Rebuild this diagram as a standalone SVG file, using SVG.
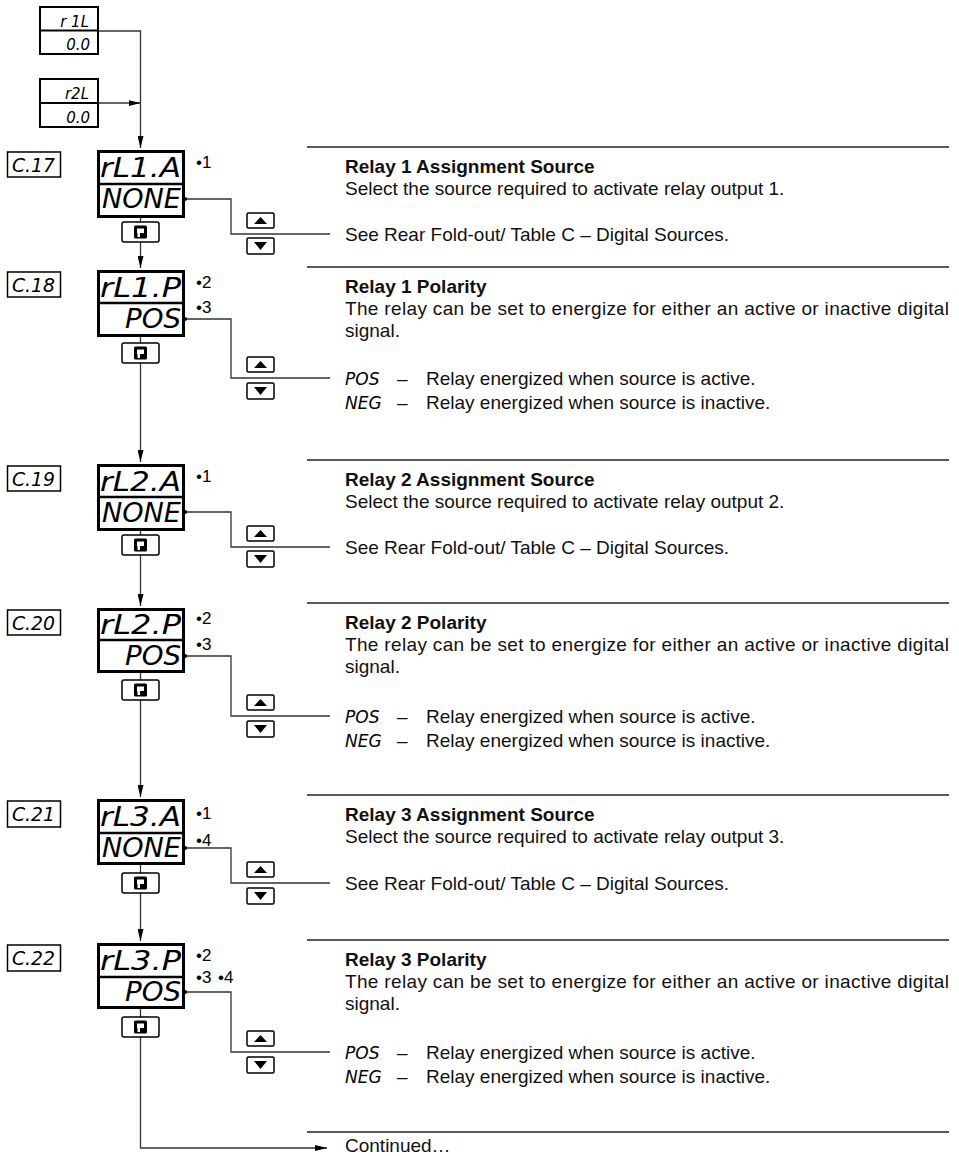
<svg xmlns="http://www.w3.org/2000/svg" width="959" height="1156" viewBox="0 0 959 1156">
<style>
.disp{fill:#fff;stroke:#000;stroke-width:3}
.div{stroke:#000;stroke-width:2.5}
.small{fill:#fff;stroke:#000;stroke-width:2}
.cbox{fill:#fff;stroke:#000;stroke-width:1.5}
.seg{font-family:"DejaVu Sans","Liberation Sans",sans-serif;font-weight:200;font-style:italic;fill:#000}
.big{font-size:26px}
.mid{font-size:19px}
.sm{font-size:15px}
.tseg{font-size:17px}
.txt{font-family:"Liberation Sans",Arial,sans-serif;font-size:19px;fill:#111}
.hd{font-weight:bold}
.dot{font-family:"Liberation Sans",Arial,sans-serif;font-size:17px;fill:#000}
.conn{stroke:#333;stroke-width:1.3;fill:none}
.sep{stroke:#222;stroke-width:1.5}
.btn{fill:#fff;stroke:#000;stroke-width:1.5}
.tri{fill:#000}
</style>
<defs>
<marker id="ah" viewBox="0 0 12 6" refX="12" refY="3" markerWidth="12" markerHeight="6" markerUnits="userSpaceOnUse" orient="auto"><path d="M0,0 L12,3 L0,6 z" fill="#000"/></marker>
<g id="enter"><rect x="-18.5" y="0" width="37" height="20" rx="2" class="btn"/><rect x="-6.5" y="3.5" width="13" height="13" rx="1.5" fill="#000"/><rect x="-3.5" y="6.5" width="7" height="4.5" fill="#fff"/><path d="M-3,11 L-0.5,11 L-0.5,15 L-3,15 z" fill="#fff"/></g>
<g id="up"><rect x="0" y="0" width="27" height="15" rx="1.5" class="btn"/><path d="M7,11 L20,11 L13.5,4 z" class="tri"/></g>
<g id="down"><rect x="0" y="0" width="27" height="16" rx="1.5" class="btn"/><path d="M7,4 L20,4 L13.5,12 z" class="tri"/></g>
</defs>

<g id="connectors">
<path class="conn" d="M98,31 H140.5 V148" marker-end="url(#ah)"/>
<path class="conn" d="M98,103 H140.5" marker-end="url(#ah)"/>
<path class="conn" d="M140.5,218 V268" marker-end="url(#ah)"/>
<path class="conn" d="M140.5,337 V462" marker-end="url(#ah)"/>
<path class="conn" d="M140.5,531 V606" marker-end="url(#ah)"/>
<path class="conn" d="M140.5,673 V797" marker-end="url(#ah)"/>
<path class="conn" d="M140.5,865 V941" marker-end="url(#ah)"/>
<path class="conn" d="M140.5,1009 V1148 H327" marker-end="url(#ah)"/>
<path class="conn" d="M185,199 H231 V234 H330"/>
<path class="conn" d="M185,319 H231 V378 H330"/>
<path class="conn" d="M185,512 H231 V547 H330"/>
<path class="conn" d="M185,656 H231 V716 H330"/>
<path class="conn" d="M185,848 H231 V883 H330"/>
<path class="conn" d="M185,992 H231 V1052 H330"/>
<circle cx="185" cy="199" r="2" fill="#000"/>
<circle cx="185" cy="319" r="2" fill="#000"/>
<circle cx="185" cy="512" r="2" fill="#000"/>
<circle cx="185" cy="656" r="2" fill="#000"/>
<circle cx="185" cy="848" r="2" fill="#000"/>
<circle cx="185" cy="992" r="2" fill="#000"/>
</g>

<g id="separators">
<line class="sep" x1="307" y1="147" x2="949" y2="147"/>
<line class="sep" x1="307" y1="267" x2="949" y2="267"/>
<line class="sep" x1="307" y1="460" x2="949" y2="460"/>
<line class="sep" x1="307" y1="603" x2="949" y2="603"/>
<line class="sep" x1="307" y1="795" x2="949" y2="795"/>
<line class="sep" x1="307" y1="940" x2="949" y2="940"/>
<line class="sep" x1="307" y1="1132" x2="949" y2="1132"/>
</g>

<g id="r1L">
<rect x="40" y="7" width="58" height="47" class="small"/>
<line x1="39" y1="30.5" x2="99" y2="30.5" stroke="#000" stroke-width="2"/>
<text class="seg sm" x="89" y="27" text-anchor="end">r 1L</text>
<text class="seg sm" x="90" y="50" text-anchor="end">0.0</text>
</g>
<g id="r2L">
<rect x="40" y="79" width="58" height="48" class="small"/>
<line x1="39" y1="103" x2="99" y2="103" stroke="#000" stroke-width="2"/>
<text class="seg sm" x="89" y="99" text-anchor="end">r2L</text>
<text class="seg sm" x="90" y="123" text-anchor="end">0.0</text>
</g>

<!-- Row 1 -->
<g id="C17"><rect x="7.5" y="152" width="53" height="25" class="cbox"/><text class="seg mid" x="12" y="172" textLength="43" lengthAdjust="spacingAndGlyphs">C.17</text></g>
<g id="rL1A">
<rect x="98.5" y="151.5" width="85" height="65" class="disp"/>
<line class="div" x1="97" y1="184" x2="185" y2="184"/>
<text class="seg big" x="100" y="177" textLength="81" lengthAdjust="spacingAndGlyphs">rL1.A</text>
<text class="seg big" x="102" y="208" textLength="79" lengthAdjust="spacingAndGlyphs">NONE</text>
<text class="dot" x="196" y="168">•1</text>
<use href="#enter" x="140.5" y="222"/>
<use href="#up" x="247" y="213"/>
<use href="#down" x="247" y="238"/>
</g>
<g id="t1">
<text class="txt hd" x="345" y="173">Relay 1 Assignment Source</text>
<text class="txt" x="345" y="195">Select the source required to activate relay output 1.</text>
<text class="txt" x="345" y="241">See Rear Fold-out/ Table C – Digital Sources.</text>
</g>

<!-- Row 2 -->
<g id="C18"><rect x="7.5" y="272" width="53" height="25" class="cbox"/><text class="seg mid" x="12" y="292" textLength="43" lengthAdjust="spacingAndGlyphs">C.18</text></g>
<g id="rL1P">
<rect x="98.5" y="271.5" width="85" height="64" class="disp"/>
<line class="div" x1="97" y1="303" x2="185" y2="303"/>
<text class="seg big" x="100" y="297" textLength="81" lengthAdjust="spacingAndGlyphs">rL1.P</text>
<text class="seg big" x="125" y="328" textLength="56" lengthAdjust="spacingAndGlyphs">POS</text>
<text class="dot" x="196" y="288">•2</text>
<text class="dot" x="196" y="313">•3</text>
<use href="#enter" x="140.5" y="343"/>
<use href="#up" x="247" y="357"/>
<use href="#down" x="247" y="383"/>
</g>
<g id="t2">
<text class="txt hd" x="345" y="293">Relay 1 Polarity</text>
<text class="txt" x="345" y="315" textLength="604" lengthAdjust="spacing">The relay can be set to energize for either an active or inactive digital</text>
<text class="txt" x="345" y="337">signal.</text>
<text class="seg tseg" x="345" y="385">POS</text>
<text class="txt" x="397" y="385">–</text>
<text class="txt" x="426" y="385">Relay energized when source is active.</text>
<text class="seg tseg" x="345" y="409">NEG</text>
<text class="txt" x="397" y="409">–</text>
<text class="txt" x="426" y="409">Relay energized when source is inactive.</text>
</g>

<!-- Row 3 -->
<g id="C19"><rect x="7.5" y="466" width="53" height="25" class="cbox"/><text class="seg mid" x="12" y="486" textLength="43" lengthAdjust="spacingAndGlyphs">C.19</text></g>
<g id="rL2A">
<rect x="98.5" y="465.5" width="85" height="64" class="disp"/>
<line class="div" x1="97" y1="497" x2="185" y2="497"/>
<text class="seg big" x="100" y="491" textLength="81" lengthAdjust="spacingAndGlyphs">rL2.A</text>
<text class="seg big" x="102" y="522" textLength="79" lengthAdjust="spacingAndGlyphs">NONE</text>
<text class="dot" x="196" y="482">•1</text>
<use href="#enter" x="140.5" y="535"/>
<use href="#up" x="247" y="526"/>
<use href="#down" x="247" y="551"/>
</g>
<g id="t3">
<text class="txt hd" x="345" y="486">Relay 2 Assignment Source</text>
<text class="txt" x="345" y="508">Select the source required to activate relay output 2.</text>
<text class="txt" x="345" y="554">See Rear Fold-out/ Table C – Digital Sources.</text>
</g>

<!-- Row 4 -->
<g id="C20"><rect x="7.5" y="610" width="53" height="25" class="cbox"/><text class="seg mid" x="12" y="630" textLength="43" lengthAdjust="spacingAndGlyphs">C.20</text></g>
<g id="rL2P">
<rect x="98.5" y="609.5" width="85" height="62" class="disp"/>
<line class="div" x1="97" y1="640" x2="185" y2="640"/>
<text class="seg big" x="100" y="634" textLength="81" lengthAdjust="spacingAndGlyphs">rL2.P</text>
<text class="seg big" x="125" y="665" textLength="56" lengthAdjust="spacingAndGlyphs">POS</text>
<text class="dot" x="196" y="624">•2</text>
<text class="dot" x="196" y="650">•3</text>
<use href="#enter" x="140.5" y="680"/>
<use href="#up" x="247" y="695"/>
<use href="#down" x="247" y="721"/>
</g>
<g id="t4">
<text class="txt hd" x="345" y="629">Relay 2 Polarity</text>
<text class="txt" x="345" y="651" textLength="604" lengthAdjust="spacing">The relay can be set to energize for either an active or inactive digital</text>
<text class="txt" x="345" y="673">signal.</text>
<text class="seg tseg" x="345" y="723">POS</text>
<text class="txt" x="397" y="723">–</text>
<text class="txt" x="426" y="723">Relay energized when source is active.</text>
<text class="seg tseg" x="345" y="747">NEG</text>
<text class="txt" x="397" y="747">–</text>
<text class="txt" x="426" y="747">Relay energized when source is inactive.</text>
</g>

<!-- Row 5 -->
<g id="C21"><rect x="7.5" y="801" width="53" height="26" class="cbox"/><text class="seg mid" x="12" y="821" textLength="43" lengthAdjust="spacingAndGlyphs">C.21</text></g>
<g id="rL3A">
<rect x="98.5" y="800.5" width="85" height="63" class="disp"/>
<line class="div" x1="97" y1="833" x2="185" y2="833"/>
<text class="seg big" x="100" y="826" textLength="81" lengthAdjust="spacingAndGlyphs">rL3.A</text>
<text class="seg big" x="102" y="857" textLength="79" lengthAdjust="spacingAndGlyphs">NONE</text>
<text class="dot" x="196" y="819">•1</text>
<text class="dot" x="196" y="846">•4</text>
<use href="#enter" x="140.5" y="873"/>
<use href="#up" x="247" y="862"/>
<use href="#down" x="247" y="888"/>
</g>
<g id="t5">
<text class="txt hd" x="345" y="821">Relay 3 Assignment Source</text>
<text class="txt" x="345" y="843">Select the source required to activate relay output 3.</text>
<text class="txt" x="345" y="890">See Rear Fold-out/ Table C – Digital Sources.</text>
</g>

<!-- Row 6 -->
<g id="C22"><rect x="7.5" y="945" width="53" height="26" class="cbox"/><text class="seg mid" x="12" y="965" textLength="43" lengthAdjust="spacingAndGlyphs">C.22</text></g>
<g id="rL3P">
<rect x="98.5" y="944.5" width="85" height="63" class="disp"/>
<line class="div" x1="97" y1="977" x2="185" y2="977"/>
<text class="seg big" x="100" y="970" textLength="81" lengthAdjust="spacingAndGlyphs">rL3.P</text>
<text class="seg big" x="125" y="1001" textLength="56" lengthAdjust="spacingAndGlyphs">POS</text>
<text class="dot" x="196" y="961">•2</text>
<text class="dot" x="196" y="983">•3</text>
<text class="dot" x="218" y="983">•4</text>
<use href="#enter" x="140.5" y="1017"/>
<use href="#up" x="247" y="1031"/>
<use href="#down" x="247" y="1057"/>
</g>
<g id="t6">
<text class="txt hd" x="345" y="966">Relay 3 Polarity</text>
<text class="txt" x="345" y="988" textLength="604" lengthAdjust="spacing">The relay can be set to energize for either an active or inactive digital</text>
<text class="txt" x="345" y="1010">signal.</text>
<text class="seg tseg" x="345" y="1059">POS</text>
<text class="txt" x="397" y="1059">–</text>
<text class="txt" x="426" y="1059">Relay energized when source is active.</text>
<text class="seg tseg" x="345" y="1083">NEG</text>
<text class="txt" x="397" y="1083">–</text>
<text class="txt" x="426" y="1083">Relay energized when source is inactive.</text>
</g>

<g id="continued"><text class="txt" x="345" y="1152">Continued…</text></g>
</svg>
